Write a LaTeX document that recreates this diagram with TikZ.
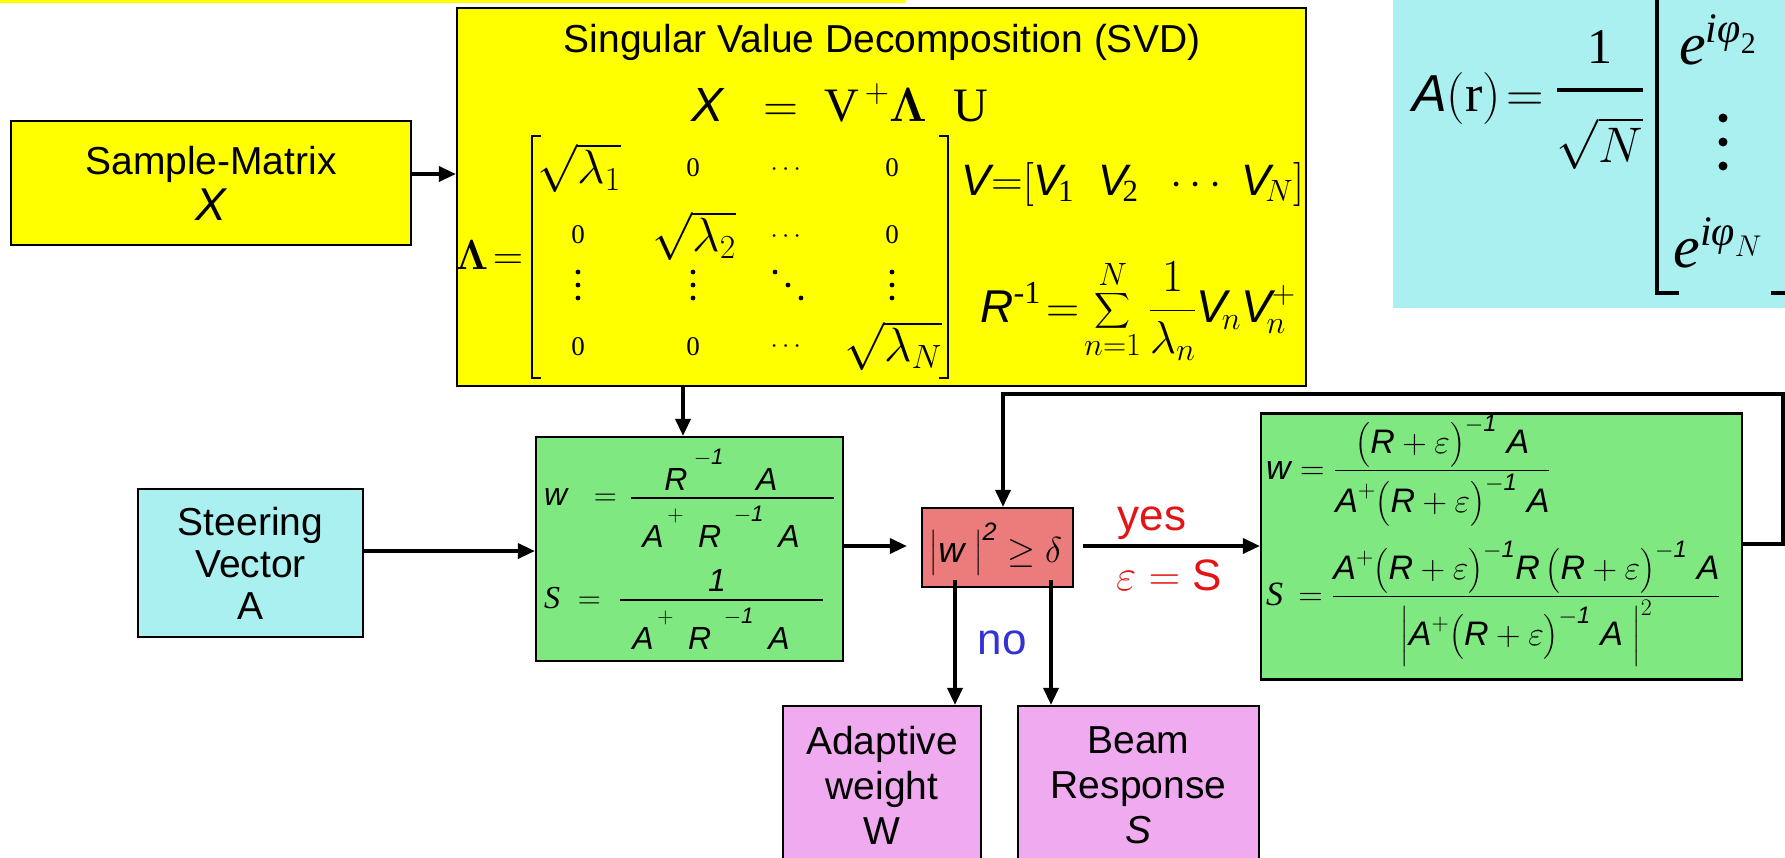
\RequirePackage{fix-cm}
\documentclass[tikz,border=0pt]{standalone}
\usepackage{amsmath}
\usepackage[no-math]{fontspec}
\setmainfont{Liberation Serif}
\setsansfont{Liberation Sans}
\usetikzlibrary{arrows.meta}
\definecolor{svdyellow}{RGB}{255,255,0}
\definecolor{steercyan}{RGB}{170,240,240}
\definecolor{calcgreen}{RGB}{128,232,128}
\definecolor{testred}{RGB}{236,124,124}
\definecolor{outpink}{RGB}{240,170,240}
\definecolor{yesred}{RGB}{228,20,20}
\definecolor{noblue}{RGB}{50,50,215}
\newcommand{\fs}[2]{\fontsize{#1}{#2}\selectfont}
\newcommand{\hv}[1]{\text{\sffamily\itshape #1}}
\newcommand{\zr}{\textrm{0}}
\newcommand{\hup}[1]{^{\raisebox{12pt}{$\scriptstyle#1$}}}
\begin{document}
\begin{tikzpicture}[x=1pt,y=-1pt,
    every node/.style={inner sep=0pt,font=\sffamily},
    blk/.style={rectangle,draw=black,line width=2.2pt},
    arr/.style={line width=3.5pt,-{Triangle[length=17pt,width=15pt]}},
    brk/.style={line width=2pt},
    brkb/.style={line width=3.5pt},
    fbar/.style={line width=1.8pt}]
\clip (0,0) rectangle (1785,857);
\fill[svdyellow] (0,0) rectangle (906,3);

\node[fill=steercyan,minimum width=420pt,minimum height=330pt] (avec) at (1603,143) {};
\node[blk,fill=svdyellow,minimum width=400pt,minimum height=124pt,align=center,font=\sffamily\fs{39}{46}] (sample) at (211,183)
	{Sample-Matrix\\{\fs{46}{46}\itshape X}};
\node[blk,fill=svdyellow,minimum width=849pt,minimum height=378pt] (svd) at (881.5,197) {};
\node[blk,fill=steercyan,minimum width=225pt,minimum height=148pt,align=center,font=\sffamily\fs{39}{42}] (steer) at (250.5,563)
	{Steering\\Vector\\A};
\node[blk,fill=calcgreen,minimum width=307pt,minimum height=224pt] (calc) at (689.5,549) {};
\node[blk,fill=testred,minimum width=151pt,minimum height=79pt] (test) at (997.5,547.5) {};
\node[blk,fill=calcgreen,minimum width=481pt,minimum height=266pt] (robust) at (1501.5,546.5) {};
\node[blk,fill=outpink,minimum width=198pt,minimum height=158pt,align=center,font=\sffamily\fs{39}{45}] (adapt) at (882,785)
	{Adaptive\\weight\\W};
\node[blk,fill=outpink,minimum width=241pt,minimum height=158pt,align=center,font=\sffamily\fs{39}{45}] (beam) at (1138.5,785)
	{Beam\\Response\\\textit{S}};

\node[font=\sffamily\fs{39}{39}] (svdtitle) at (882,42) {Singular Value Decomposition (SVD)};
\node[font=\fs{48}{48}] (svdeq) at (840,103) {$\hv{X}\;\;=\;\textrm{V}^{\,+}\boldsymbol{\Lambda}\;\;\textrm{U}$};
\node[font=\fs{42}{42}] (lameq) at (489,255) {$\boldsymbol{\Lambda}\!=$};
\draw[brk] (541,136) -- (532,136) -- (532,378) -- (541,378);
\draw[brk] (939,136) -- (948,136) -- (948,378) -- (939,378);
\foreach \e/\s/\x/\y [count=\k] in {
		\sqrt{\lambda_1}/48/579/168, \zr/27/693/168, \cdots/26/788/170, \zr/27/892/168,
		\zr/27/578/235, \sqrt{\lambda_2}/48/694/236, \cdots/26/788/237, \zr/27/892/235,
		\zr/27/578/347, \zr/27/693/347, \cdots/26/788/347, \sqrt{\lambda_N}/48/893/346}
	\node[font=\fs{\s}{\s}] (lam\k) at (\x,\y) {$\e$};
\foreach \x in {578,693,892}
	\foreach \d in {-13,0,13}
		\fill (\x,285+\d) circle (2.4pt);
\foreach \d in {-13,0,13}
	\fill (788+\d,285+\d) circle (2.4pt);
\node[anchor=base,font=\fs{44}{44}] (vvec) at (1133,195)
	{$\hv{V}{=}\!\left[\hv{V}_{\!\textrm{1}}\;\;\hv{V}_{\!\textrm{2}}\;\;\cdots\;\hv{V}_{\!N}\right]$};
\node[font=\fs{46}{46}] (rinv) at (1138,311)
	{$\displaystyle\hv{R}^{\textrm{-1}}\!=\!\sum_{n=1}^{N}\frac{1}{\lambda_n}\hv{V}_{\!n}\hv{V}_{\!n}^{+}$};

\node[anchor=base,font=\fs{52}{52}] (aeq) at (1478,111) {$\hv{A}(\textrm{r})\!=$};
\node[font=\fs{50}{50}] (aone) at (1600,47) {$\textrm{1}$};
\node[font=\fs{50}{50}] (asqrt) at (1600,143) {$\sqrt{N}$};
\draw[brkb] (1557,90) -- (1643,90);
\draw[brkb] (1679,293) -- (1657,293) -- (1657,-10);
\draw[brkb] (1771,293) -- (1797,293) -- (1797,-10);
\node[font=\fs{60}{60}] (etwo) at (1718,40) {$\textit{e}^{\textit{iφ}_{\textrm{2}}}$};
\foreach \d in {118,142,166}
	\fill (1723,\d) circle (4.5pt);
\node[font=\fs{60}{60}] (eN) at (1718,243) {$\textit{e}^{\textit{iφ}_{N}}$};

\node[anchor=base west,font=\fs{32}{32}] (wlhs) at (544,505) {$\hv{w}\;\;=$};
\node[anchor=base,font=\fs{32}{32}] (wnum) at (721,490) {$\hv{R}\hup{\;-\hv{1}}\quad\hv{A}$};
\node[anchor=base,font=\fs{32}{32}] (wden) at (721,547) {$\hv{A}\hup{\,+}\;\,\hv{R}\hup{\;\;-\hv{1}}\;\,\hv{A}$};
\draw[fbar] (631,498) -- (834,498);
\node[anchor=base west,font=\fs{32}{32}] (slhs) at (544,608) {$\textit{S}\;=$};
\node[anchor=base,font=\fs{32}{32}] (snum) at (717,591) {$\hv{1}$};
\node[anchor=base,font=\fs{32}{32}] (sden) at (711,649) {$\hv{A}\hup{\,+}\;\,\hv{R}\hup{\;\;-\hv{1}}\;\,\hv{A}$};
\draw[fbar] (620,600) -- (823,600);

\node[anchor=base,font=\fs{36}{36}] (crit) at (996,562) {$\bigl|\hv{w}\;\bigr|^{\hv{2}}\geq\delta$};

\node[anchor=base west,font=\fs{34}{34}] (wrob) at (1266,479)
	{$\hv{w}=\dfrac{\bigl(\hv{R}+\varepsilon\bigr)^{-\hv{1}}\;\hv{A}}{\hv{A}^{+}\bigl(\hv{R}+\varepsilon\bigr)^{-\hv{1}}\;\hv{A}}$};
\node[anchor=base west,font=\fs{34}{34}] (srob) at (1266,605)
	{$\textit{S}\,=\dfrac{\hv{A}^{+}\bigl(\hv{R}+\varepsilon\bigr)^{-\hv{1}}\hv{R}\,\bigl(\hv{R}+\varepsilon\bigr)^{-\hv{1}}\;\hv{A}}{\Bigl|\hv{A}^{+}\bigl(\hv{R}+\varepsilon\bigr)^{-\hv{1}}\;\hv{A}\;\Bigr|^{2}}$};

\node[text=yesred,font=\sffamily\fs{44}{44}] (yes) at (1152,523) {yes};
\node[text=yesred,font=\sffamily\fs{44}{44}] (epseq) at (1169,575) {$\varepsilon=\text{S}$};
\node[text=noblue,font=\sffamily\fs{44}{44}] (no) at (1002,643) {no};

\coordinate (sx) at (0,174);
\coordinate (dx) at (683,0);
\coordinate (ax) at (0,551);
\coordinate (tx) at (0,546);
\coordinate (fbr) at (1783,544);
\coordinate (fbt) at (1783,394);
\coordinate (fbl) at (1003,394);
\coordinate (na) at (955,580);
\coordinate (nb) at (1051,580);
\draw[arr] (sample.east |- sx) -- (svd.west |- sx);
\draw[arr] (svd.south -| dx) -- (calc.north -| dx);
\draw[arr] (steer.east |- ax) -- (calc.west |- ax);
\draw[arr,shorten >=14pt] (calc.east |- tx) -- (test.west |- tx);
\draw[arr,shorten <=9pt] (test.east |- tx) -- (robust.west |- tx);
\draw[arr] (robust.east |- fbr) -- (fbr) -- (fbt) -- (fbl) -- (test.north -| fbl);
\draw[arr] (na) -- (adapt.north -| na);
\draw[arr] (nb) -- (beam.north -| nb);
\end{tikzpicture}
\end{document}
